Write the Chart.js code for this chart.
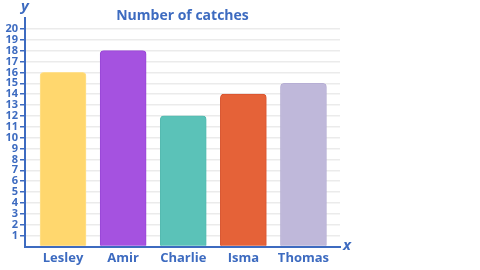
<!DOCTYPE html>
<html><head><meta charset="utf-8">
<script src="https://cdn.jsdelivr.net/npm/chart.js@4"></script>
<style>html,body{margin:0;padding:0;background:#fff}#w{width:480px;height:270px}</style>
</head><body><div id="w"><canvas id="c"></canvas></div>
<script>
const categories = ["Lesley", "Amir", "Charlie", "Isma", "Thomas"];
const catches = [16, 18, 12, 14, 15];
const barColors = ["#FFD76E", "#A552E0", "#5BC2B8", "#E56238", "#BFB8DA"];
const borderColors = ["#FFE08E", "#9947D6", "#55BAB0", "#D95530", "#B6AED4"];
const yTicks = [1,2,3,4,5,6,7,8,9,10,11,12,13,14,15,16,17,18,19,20];
const titleText = "Number of catches";
const BLUE = "#3D6BC0";
const FONT = "'Open Sans', sans-serif";

const extras = {
  id: 'extras',
  afterDraw(chart) {
    const {ctx, chartArea} = chart;
    ctx.save();
    ctx.fillStyle = BLUE;
    ctx.font = "bold 14px " + FONT;
    ctx.textAlign = "center";
    ctx.textBaseline = "middle";
    ctx.fillText(titleText, (chartArea.left + chartArea.right) / 2, 16);
    ctx.font = "italic bold 15px " + FONT;
    ctx.fillText("y", chartArea.left, 7);
    ctx.textAlign = "left";
    ctx.fillText("x", chartArea.right + 3, chart.scales.y.getPixelForValue(0) - 1);
    ctx.restore();
  }
};

new Chart(document.getElementById('c'), {
  type: 'bar',
  data: {
    datasets: [{
      data: catches.map((v, i) => ({x: i, y: v})),
      backgroundColor: barColors,
      borderColor: borderColors,
      borderWidth: 1,
      borderRadius: {topLeft: 4, topRight: 4, bottomLeft: 0, bottomRight: 0},
      borderSkipped: 'bottom',
      barThickness: 46
    }]
  },
  options: {
    responsive: true,
    maintainAspectRatio: false,
    animation: false,
    layout: {padding: {top: 18, right: 140, bottom: 0, left: 0}},
    plugins: {legend: {display: false}, tooltip: {enabled: false}, title: {display: false}},
    scales: {
      x: {
        type: 'linear',
        offset: false,
        min: -0.633,
        max: 4.608,
        afterBuildTicks: s => { s.ticks = categories.map((c, i) => ({value: i})); },
        afterFit: s => { s.height = 23.5; },
        grid: {display: false, drawTicks: false, offset: false},
        border: {display: true, color: BLUE, width: 2},
        ticks: {
          autoSkip: false,
          maxRotation: 0,
          padding: 4,
          color: BLUE,
          font: {family: FONT, size: 13, weight: 'bold'},
          callback: v => categories[v] ?? ''
        }
      },
      y: {
        min: 0,
        max: 21,
        afterBuildTicks: s => { s.ticks = [0].concat(yTicks, [21]).map(v => ({value: v})); },
        afterFit: s => { s.width = 25; },
        grid: {
          color: c => (c.tick && c.tick.value >= 1 && c.tick.value <= 20) ? '#EBEBEB' : 'rgba(0,0,0,0)',
          lineWidth: 1.5,
          tickLength: 5,
          tickColor: c => (c.tick && c.tick.value >= 1 && c.tick.value <= 20) ? BLUE : 'rgba(0,0,0,0)',
          tickWidth: 1.5
        },
        border: {display: true, color: BLUE, width: 2},
        ticks: {
          autoSkip: false,
          padding: 2,
          color: BLUE,
          font: {family: FONT, size: 11, weight: 'bold'},
          callback: v => yTicks.includes(v) ? String(v) : ''
        }
      }
    }
  },
  plugins: [extras]
});
</script>
</body></html>
